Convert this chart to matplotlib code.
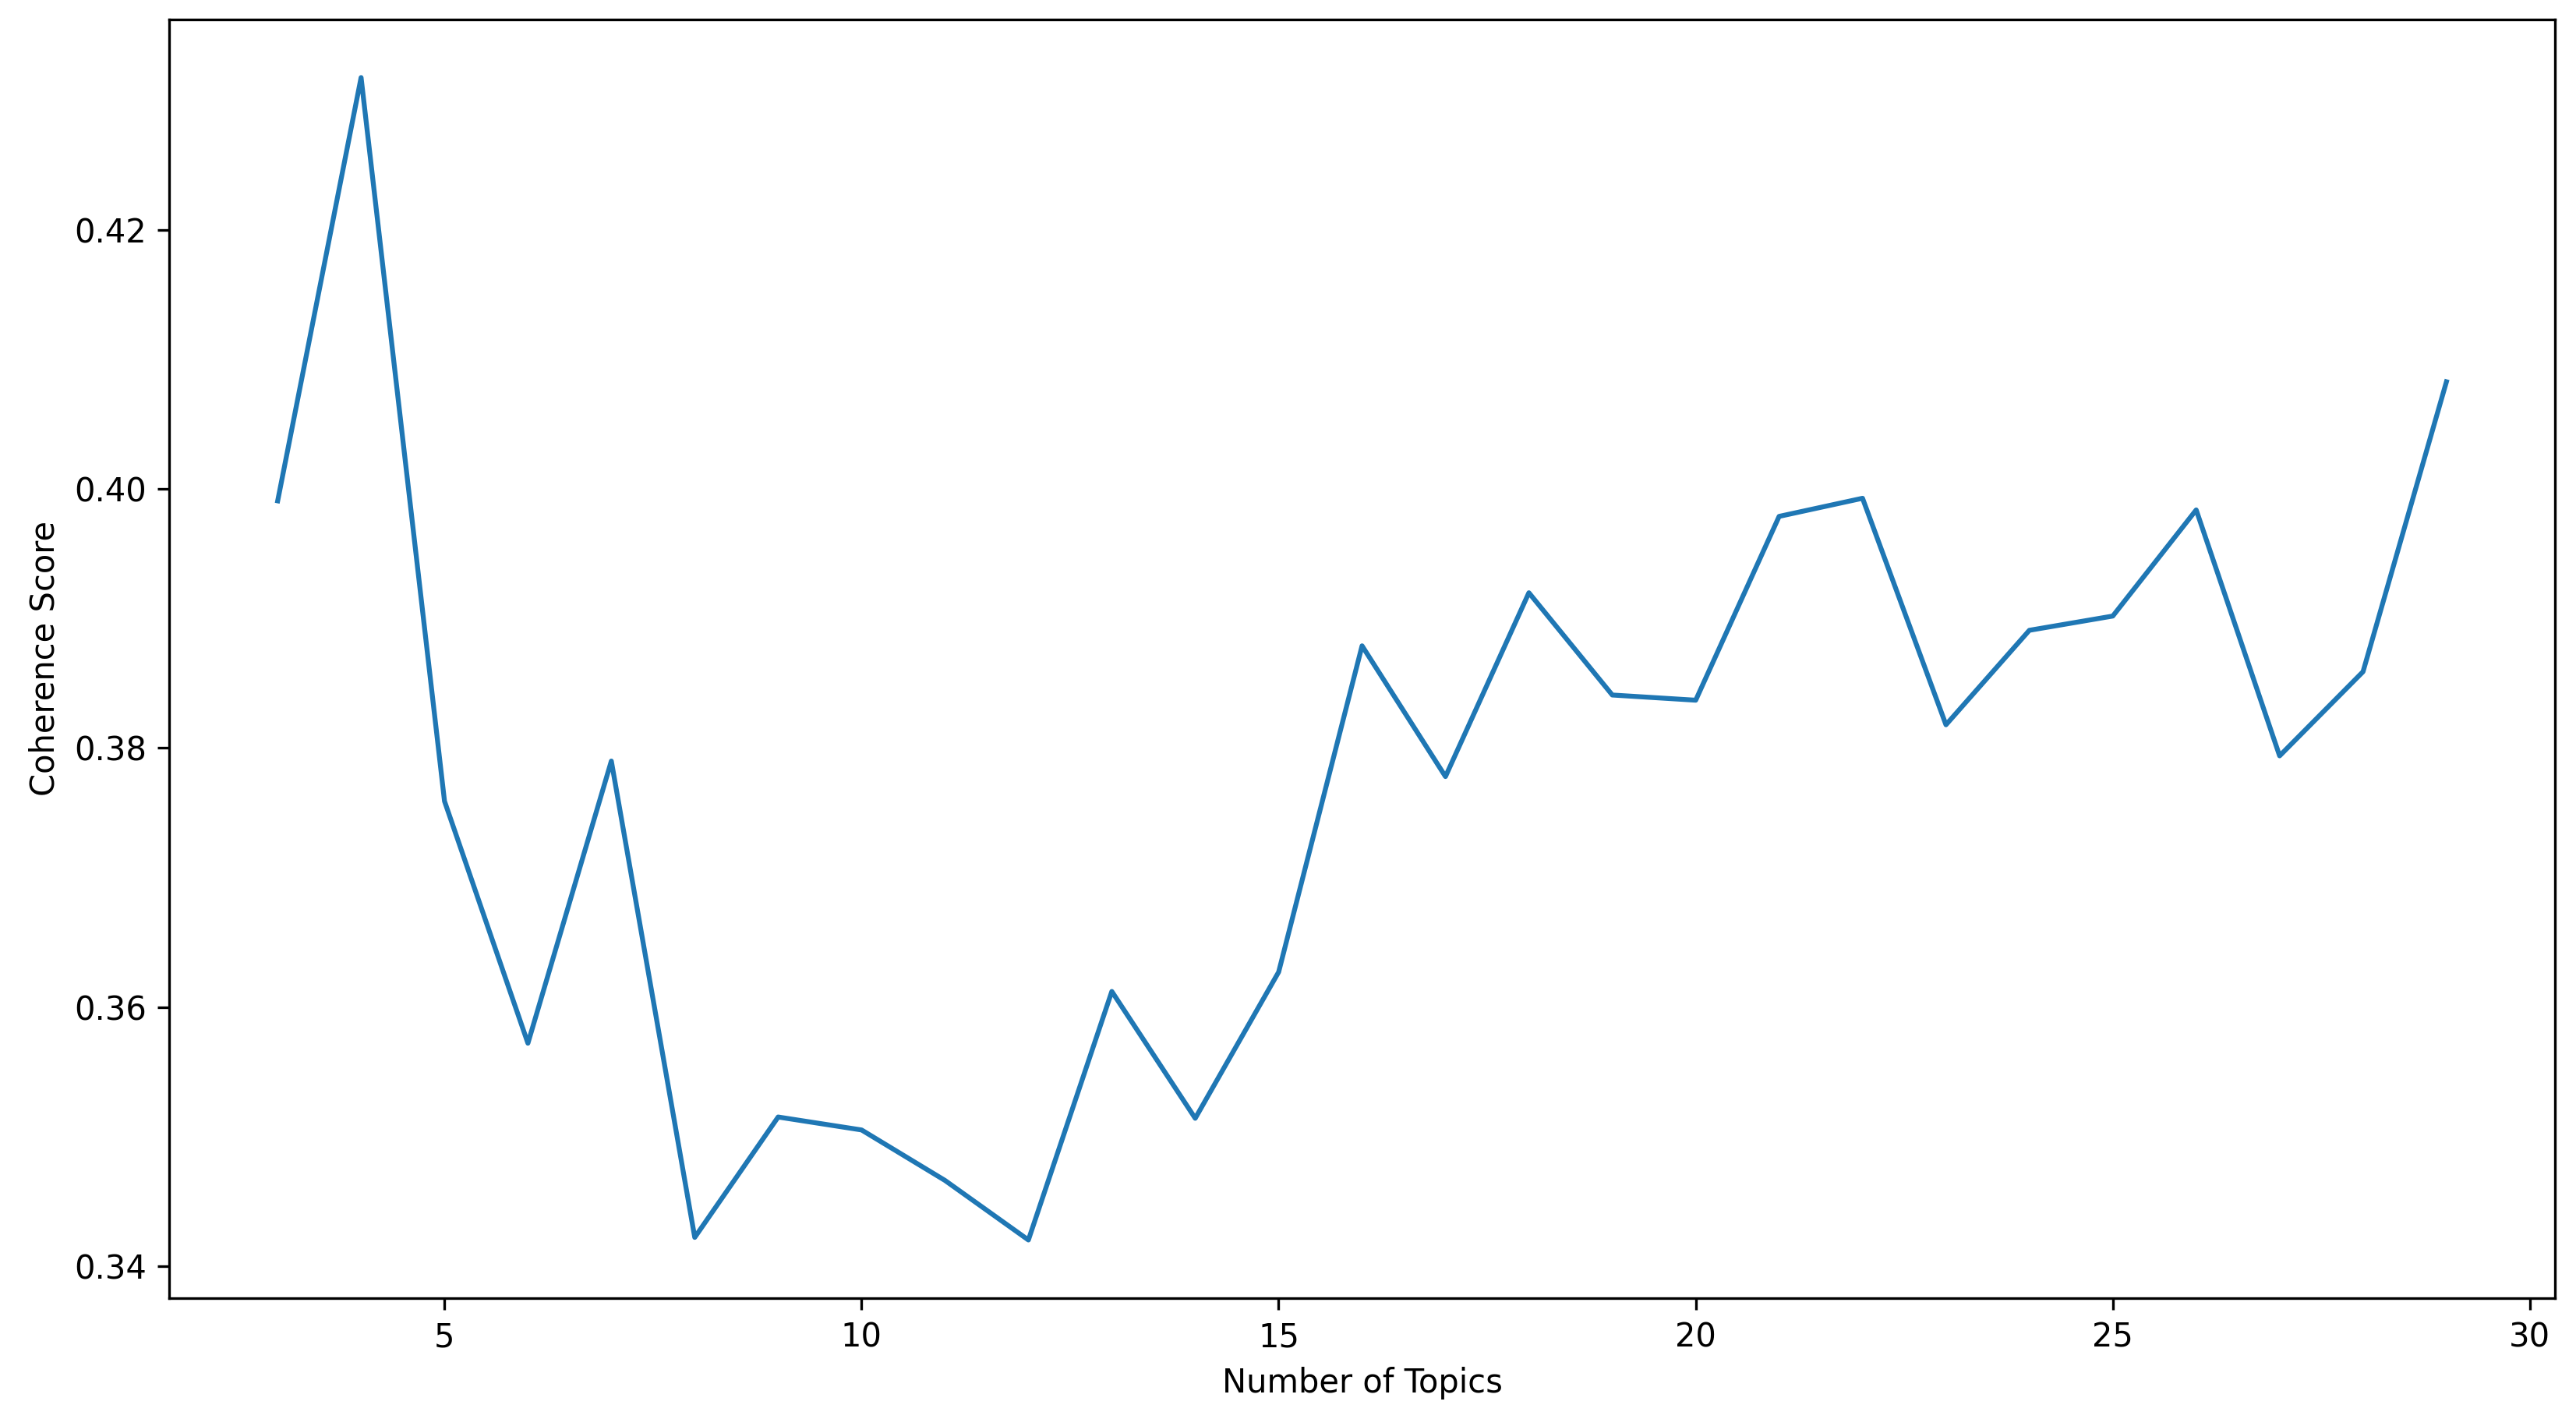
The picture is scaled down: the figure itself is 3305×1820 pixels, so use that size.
import matplotlib
matplotlib.use("Agg")
import matplotlib.pyplot as plt

# number of topics tried and the coherence score for each
num_topics = list(range(3, 30))
coherence = [
    0.3991, 0.4318, 0.3759, 0.3572, 0.3790, 0.3422, 0.3515, 0.3505, 0.3466,
    0.3420, 0.3612, 0.3514, 0.3627, 0.3879, 0.3778, 0.3920, 0.3841, 0.3837,
    0.3979, 0.3993, 0.3818, 0.3891, 0.3902, 0.3984, 0.3794, 0.3859, 0.4083,
]

fig, ax = plt.subplots(figsize=(3305 / 300, 1820 / 300), dpi=300)
fig.subplots_adjust(left=0.0657, right=0.9918, top=0.9863, bottom=0.0852)

ax.plot(num_topics, coherence)
ax.set_xlabel("Number of Topics")
ax.set_ylabel("Coherence Score")

fig.savefig("out.png", dpi=300)
